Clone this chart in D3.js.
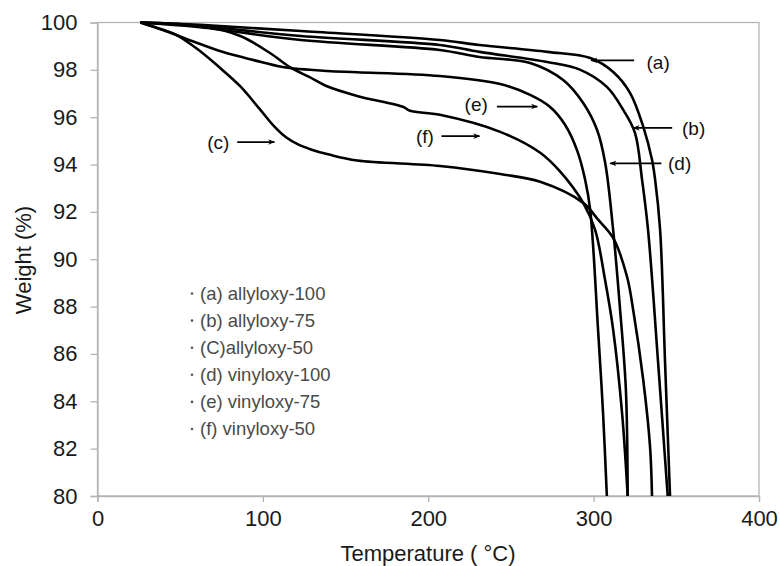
<!DOCTYPE html>
<html>
<head>
<meta charset="utf-8">
<script src="https://cdn.jsdelivr.net/npm/d3@7"></script>
<style>
  html, body { margin: 0; padding: 0; background: #fff; }
  svg { display: block; font-family: "Liberation Sans", Arial, sans-serif; }
</style>
</head>
<body>
<svg id="chart" width="780" height="566"></svg>
<script>
// ---- data (Temperature °C, Weight %) ----
const seriesNames = ["(a) allyloxy-100", "(b) allyloxy-75", "(C)allyloxy-50", "(d) vinyloxy-100", "(e) vinyloxy-75", "(f) vinyloxy-50"];
const xTicks = [0, 100, 200, 300, 400];
const yTicks = [80, 82, 84, 86, 88, 90, 92, 94, 96, 98, 100];

const curveA = [[26,100],[62,99.9],[123,99.64],[207,99.26],[231,99.05],[272,98.76],[298,98.5],[312,97.9],[322,97.03],[330,95.6],[335.3,94.2],[337.2,93.35],[340.2,91.24],[343.2,85.63],[346.2,80]];
const curveB = [[26,100],[62,99.85],[123,99.43],[207,99.05],[231,98.76],[272,98.33],[292,98.0],[308,97.28],[318,96.3],[325,95.34],[329.3,93.35],[332.9,91.24],[339,85.63],[344.8,80]];
const curveC = [[26,100],[35,99.8],[47,99.5],[60,98.9],[73,98.15],[86.4,97.3],[98,96.35],[107,95.6],[114,95.15],[121,94.86],[129,94.64],[140,94.42],[157,94.17],[207,93.94],[243.5,93.6],[267.7,93.27],[293.7,92.38],[302.7,91.67],[311.8,90.9],[320.2,89.26],[323.9,87.87],[330,84.9],[334.1,82.1],[335.3,80]];
const curveD = [[26,100],[62,99.8],[123,99.26],[207,98.84],[231,98.54],[261.6,98.29],[281.6,97.57],[293.7,96.6],[302.1,95.46],[307,94.07],[311.8,91.24],[316,87.87],[319.5,84.5],[320.6,80]];
const curveE = [[26,100],[42,99.62],[58,99.2],[76,98.75],[95,98.4],[112,98.12],[139,97.95],[157,97.9],[207,97.74],[243.5,97.4],[261.6,96.94],[273.7,96.43],[282.8,95.67],[290,94.6],[294.9,93.35],[297.9,92.1],[302.7,87.0],[305.7,83.5],[308,80]];
const curveF = [[26,100],[62,99.85],[86.4,99.43],[104.5,98.7],[116.6,98.1],[128,97.7],[138,97.33],[157,96.9],[185,96.43],[189,96.27],[207,96.1],[243.5,95.38],[267.7,94.5],[279.8,93.7],[293.7,92.38],[300.9,91.24],[306.9,89.13],[311.8,87.03],[317.2,83.5],[320.6,80]];

// annotation labels: text position [°C, weight]; arrow [start °C, end °C, weight]
const annoLabels = ["(a)", "(b)", "(c)", "(d)", "(e)", "(f)"];
const annoText = [[339,98.3],[360.5,95.55],[73,94.95],[352,94.05],[229,96.55],[198,95.2]];
const annoArrow = [[324.5,298.5,98.4],[347.5,324,95.55],[84.5,107,94.95],[341,310,94.05],[241.5,266,96.45],[208,231,95.2]];

// ---- layout ----
const svg = d3.select("#chart");
const x = d3.scaleLinear().domain([0, 400]).range([97.5, 759]);
const y = d3.scaleLinear().domain([80, 100]).range([496, 22.5]);
const axisColor = "#b4b4b4";

svg.append("defs").append("marker")
  .attr("id", "ah").attr("viewBox", "0 0 10 10").attr("refX", 9).attr("refY", 5)
  .attr("markerWidth", 7).attr("markerHeight", 7).attr("markerUnits", "userSpaceOnUse")
  .attr("orient", "auto")
  .append("path").attr("d", "M0,1 L10,5 L0,9 L3,5 Z").attr("fill", "#000");

// frame
svg.append("rect").attr("x", x(0)).attr("y", y(100))
  .attr("width", x(400) - x(0)).attr("height", y(80) - y(100))
  .attr("fill", "none").attr("stroke", axisColor).attr("stroke-width", 1.3);

// x axis
const xAxis = d3.axisBottom(x).tickValues(xTicks).tickSize(6).tickPadding(8).tickFormat(d3.format("d"));
const gx = svg.append("g").attr("transform", `translate(0,${y(80)})`).call(xAxis);
gx.select(".domain").attr("stroke", axisColor).attr("stroke-width", 1.3);
gx.selectAll(".tick line").attr("stroke", axisColor).attr("stroke-width", 1.3);
gx.selectAll(".tick text").attr("font-size", 22).attr("fill", "#1a1a1a")
  .attr("font-family", "'Liberation Sans', Arial, sans-serif");

// y axis
const yAxis = d3.axisLeft(y).tickValues(yTicks).tickSize(7).tickPadding(13).tickFormat(d3.format("d"));
const gy = svg.append("g").attr("transform", `translate(${x(0)},0)`).call(yAxis);
gy.select(".domain").attr("stroke", axisColor).attr("stroke-width", 1.3);
gy.selectAll(".tick line").attr("stroke", axisColor).attr("stroke-width", 1.3);
gy.selectAll(".tick text").attr("font-size", 22).attr("fill", "#1a1a1a")
  .attr("font-family", "'Liberation Sans', Arial, sans-serif");

// axis titles
svg.append("text").attr("x", 428).attr("y", 561).attr("text-anchor", "middle")
  .attr("font-size", 22).attr("fill", "#1a1a1a").text("Temperature ( °C)");
svg.append("text").attr("transform", "translate(31,260) rotate(-90)").attr("text-anchor", "middle")
  .attr("font-size", 22).attr("fill", "#1a1a1a").text("Weight (%)");

// curves
const line = d3.line().x(d => x(d[0])).y(d => y(d[1])).curve(d3.curveCatmullRom.alpha(0.5));
const curves = [curveA, curveB, curveC, curveD, curveE, curveF];
svg.append("g").selectAll("path").data(curves).join("path")
  .attr("d", line).attr("fill", "none").attr("stroke", "#000")
  .attr("stroke-width", 2.6).attr("stroke-linejoin", "round");

// annotations
annoLabels.forEach((lab, i) => {
  const t = annoText[i], a = annoArrow[i];
  svg.append("text").attr("x", x(t[0])).attr("y", y(t[1])).attr("dy", "0.35em")
    .attr("text-anchor", "middle").attr("font-size", 19).attr("fill", "#111").text(lab);
  svg.append("line").attr("x1", x(a[0])).attr("y1", y(a[2])).attr("x2", x(a[1])).attr("y2", y(a[2]))
    .attr("stroke", "#000").attr("stroke-width", 1.8).attr("marker-end", "url(#ah)");
});

// legend
const legendTop = 293.5, legendStep = 27.1;
const lg = svg.append("g");
seriesNames.forEach((name, i) => {
  const yy = legendTop + i * legendStep;
  lg.append("circle").attr("cx", 192).attr("cy", yy).attr("r", 1.3).attr("fill", "#555");
  lg.append("text").attr("x", 200).attr("y", yy).attr("dy", "0.35em")
    .attr("font-size", 18.5).attr("fill", "#4a4a4a").text(name);
});
</script>
</body>
</html>
